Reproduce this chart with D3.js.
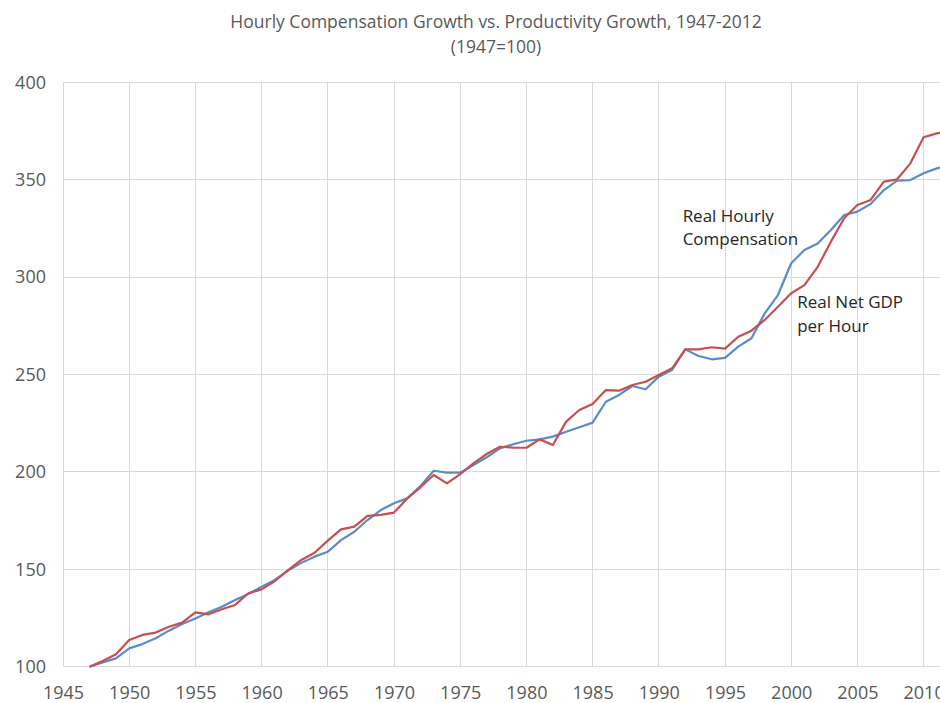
<!DOCTYPE html>
<html>
<head>
<meta charset="utf-8">
<script src="https://cdn.jsdelivr.net/npm/d3@7"></script>
<style>
  html, body { margin: 0; padding: 0; background: #fff; }
  svg { display: block; }
</style>
</head>
<body>
<svg id="chart" width="940" height="703"></svg>
<script>
// ---- data ----
const years = [1947,1948,1949,1950,1951,1952,1953,1954,1955,1956,1957,1958,1959,1960,
  1961,1962,1963,1964,1965,1966,1967,1968,1969,1970,1971,1972,1973,1974,1975,1976,1977,
  1978,1979,1980,1981,1982,1983,1984,1985,1986,1987,1988,1989,1990,1991,1992,1993,1994,
  1995,1996,1997,1998,1999,2000,2001,2002,2003,2004,2005,2006,2007,2008,2009,2010,2011,2012];
const compensation = [100,102.2,104.3,109.4,111.6,114.6,118.5,121.9,124.8,127.9,130.8,134.2,137.3,141.1,
  144.5,149.3,153.3,156.5,159.0,165.0,169.3,175.3,180.4,183.9,186.4,192.8,200.6,199.6,199.6,203.5,207.5,
  212.1,214.2,216.0,216.7,218.1,220.6,222.9,225.3,236.0,239.5,244.1,242.4,248.9,252.3,262.9,259.5,257.8,
  258.5,264.3,268.6,281.4,290.8,307.1,313.9,317.3,324.2,331.9,333.6,337.5,344.7,349.5,349.8,353.3,355.8,357.5];
const productivity = [100,102.9,106.4,113.7,116.3,117.5,120.5,122.6,127.9,126.9,129.5,131.7,137.7,139.7,
  144.0,149.6,154.8,158.5,164.7,170.5,171.9,177.4,177.9,179.1,186.4,192.1,198.4,194.1,198.9,204.4,209.2,
  212.9,212.5,212.4,216.7,213.8,225.8,231.8,234.9,242.0,241.7,244.6,246.3,249.7,253.2,262.9,262.9,264.0,
  263.3,269.4,272.5,278.0,284.8,291.7,295.9,305.3,318.2,330.2,337.0,339.6,349.0,350.2,358.4,371.8,373.8,375.0];
const xTicks = [1945,1950,1955,1960,1965,1970,1975,1980,1985,1990,1995,2000,2005,2010];
const yTicks = [100,150,200,250,300,350,400];
const titleLines = ["Hourly Compensation Growth vs. Productivity Growth, 1947-2012", "(1947=100)"];
const labels = [
  {lines: ["Real Hourly", "Compensation"], year: 1991.8, value: 328.4},
  {lines: ["Real Net GDP", "per Hour"], year: 2000.45, value: 284.0}
];

// ---- layout ----
const svg = d3.select("#chart");
const x = d3.scaleLinear().domain([1945, 2010]).range([63, 923.6]);
const y = d3.scaleLinear().domain([100, 400]).range([666.7, 82.3]);
const plotRight = 1000;
const font = "'Open Sans', 'Noto Sans', sans-serif";

// gridlines
svg.append("g").selectAll("line").data(yTicks).join("line")
  .attr("x1", x(1945)).attr("x2", plotRight)
  .attr("y1", d => y(d)).attr("y2", d => y(d))
  .attr("stroke", "#d9d9d9").attr("stroke-width", 1).attr("shape-rendering", "crispEdges");
svg.append("g").selectAll("line").data(xTicks.concat([2015])).join("line")
  .attr("x1", d => x(d)).attr("x2", d => x(d))
  .attr("y1", y(400)).attr("y2", y(100))
  .attr("stroke", "#d9d9d9").attr("stroke-width", 1).attr("shape-rendering", "crispEdges");

// axes (labels only)
const xAxis = d3.axisBottom(x).tickValues(xTicks).tickFormat(d3.format("d")).tickSize(0).tickPadding(20);
const gx = svg.append("g").attr("transform", `translate(0,${y(100)})`).call(xAxis);
gx.select(".domain").remove();
gx.selectAll("text").attr("font-family", font).attr("font-size", 18).attr("fill", "#595959");

const yAxis = d3.axisLeft(y).tickValues(yTicks).tickSize(0).tickPadding(17);
const gy = svg.append("g").attr("transform", `translate(${x(1945)},0)`).call(yAxis);
gy.select(".domain").remove();
gy.selectAll("text").attr("font-family", font).attr("font-size", 18).attr("fill", "#595959");

// lines
const line = d3.line().x((d, i) => x(years[i])).y(d => y(d));
svg.append("path").datum(compensation).attr("d", line)
  .attr("fill", "none").attr("stroke", "#5b8cc9").attr("stroke-width", 2.2)
  .attr("stroke-linejoin", "round");
svg.append("path").datum(productivity).attr("d", line)
  .attr("fill", "none").attr("stroke", "#c4504f").attr("stroke-width", 2.2)
  .attr("stroke-linejoin", "round");

// title
svg.append("text").attr("x", 496).attr("y", 28).attr("text-anchor", "middle")
  .attr("font-family", font).attr("font-size", 17.5).attr("fill", "#595959").text(titleLines[0]);
svg.append("text").attr("x", 496).attr("y", 53).attr("text-anchor", "middle")
  .attr("font-family", font).attr("font-size", 17.5).attr("fill", "#595959").text(titleLines[1]);

// annotations
labels.forEach(l => {
  const t = svg.append("text").attr("font-family", font).attr("font-size", 17).attr("fill", "#262626");
  l.lines.forEach((s, i) => {
    t.append("tspan").attr("x", x(l.year)).attr("y", y(l.value) + i * 23.5).text(s);
  });
});
</script>
</body>
</html>
